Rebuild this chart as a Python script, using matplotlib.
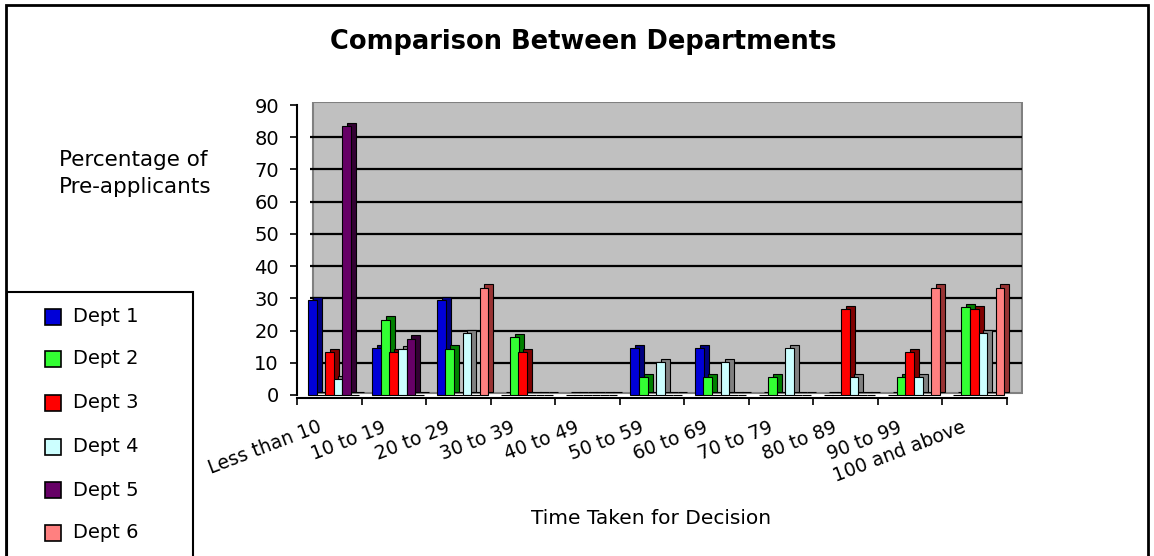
import numpy as np
import matplotlib
matplotlib.use('Agg')
from matplotlib import pyplot as plt
from matplotlib.patches import Rectangle

plt.rcParams['font.family'] = ['DejaVu Sans']

# data
categories = ['Less than 10', '10 to 19', '20 to 29', '30 to 39', '40 to 49',
              '50 to 59', '60 to 69', '70 to 79', '80 to 89', '90 to 99',
              '100 and above']
depts = ['Dept 1', 'Dept 2', 'Dept 3', 'Dept 4', 'Dept 5', 'Dept 6']
dept1 = [29.4, 14.5, 29.4, 0, 0, 14.5, 14.5, 0, 0, 0, 0]
dept2 = [0, 23.4, 14.4, 18, 0, 5.5, 5.5, 5.5, 0, 5.5, 27.3]
dept3 = [13.4, 13.3, 0, 13.4, 0, 0, 0, 0, 26.6, 13.4, 26.7]
dept4 = [5, 14.3, 19.3, 0, 0, 10.3, 10.3, 14.5, 5.5, 5.5, 19.2]
dept5 = [83.4, 17.5, 0, 0, 0, 0, 0, 0, 0, 0, 0]
dept6 = [0, 0, 33.3, 0, 0, 0, 0, 0, 0, 33.3, 33.3]
values = [dept1, dept2, dept3, dept4, dept5, dept6]

front = ['#0000d8', '#33ff33', '#ff0000', '#ccffff', '#660066', '#ff8080']
side = ['#000080', '#008000', '#800000', '#808080', '#330033', '#993333']

W, H = 1154, 556
fig = plt.figure(figsize=(W / 100, H / 100), dpi=100)

def px(x, y):
    # pixel (from top-left) -> figure fraction
    return x / W, 1 - y / H

# outer chart border
fig.patches.append(Rectangle(px(6, 600), 1142 / W, 595 / H, transform=fig.transFigure,
                             fill=False, edgecolor='black', lw=2))

ax = fig.add_axes([297 / W, 1 - 398.2 / H, 726 / W, 296.4 / H])
ax.set_facecolor('none')
ax.set_xlim(0, 726 / 64.5)
ax.set_ylim(-1, 91)

# back wall + gridlines
ax.add_patch(Rectangle((0.25, 0.6), 726 / 64.5 - 0.27, 90.3, facecolor='#c0c0c0',
                       edgecolor='#808080', lw=1.5, zorder=0))
ax.hlines(np.arange(10, 90, 10), 0.2, 726 / 64.5 - 0.02, color='black', lw=1.6, zorder=1)

x0 = np.arange(len(categories))
stride, bw, dx, dy = 0.132, 0.135, 0.075, 1.0
z = 2
for i in range(len(depts)):
    xs = x0 + 0.17 + i * stride
    ax.bar(xs + dx, values[i], width=bw, bottom=dy, align='edge', color=side[i],
           edgecolor='black', lw=0.8, zorder=z)
    ax.bar(xs, values[i], width=bw, align='edge', color=front[i],
           edgecolor='black', lw=0.8, zorder=z + 1)
    z += 2

for s in ['top', 'right']:
    ax.spines[s].set_visible(False)
ax.spines['left'].set_bounds(0, 90)
ax.spines['bottom'].set_bounds(0, len(categories))
ax.spines['left'].set_linewidth(1.5)
ax.spines['bottom'].set_linewidth(1.5)
ax.spines['bottom'].set_zorder(20)

ax.set_yticks(np.arange(0, 91, 10))
ax.tick_params(axis='y', length=5, width=1.2, labelsize=14, pad=8)
ax.set_xticks(np.arange(0, len(categories) + 1))
ax.set_xticklabels([])
ax.tick_params(axis='x', length=5, width=1.2)

for i, lab in enumerate(categories):
    ax.text(i + 0.31, -7, lab, rotation=21, ha='right', va='top',
            rotation_mode='anchor', fontsize=13.5, clip_on=False)

fig.text(*px(583, 42), 'Comparison Between Departments', ha='center', va='center',
         fontsize=18.5, fontweight='bold')
fig.text(*px(651, 518), 'Time Taken for Decision', ha='center', va='center', fontsize=14.5)
fig.text(*px(59, 150), 'Percentage of\nPre-applicants', ha='left', va='top',
         fontsize=15.5, linespacing=1.45)

# legend box
fig.patches.append(Rectangle(px(7, 600), 186 / W, 308 / H, transform=fig.transFigure,
                             facecolor='white', edgecolor='black', lw=1.5))
leg_y = [317, 359, 403, 447, 490, 533]
for i, name in enumerate(depts):
    fig.patches.append(Rectangle(px(45, leg_y[i] + 8), 16 / W, 16 / H,
                                 transform=fig.transFigure, facecolor=front[i],
                                 edgecolor='black', lw=1.2))
    fig.text(*px(73, leg_y[i]), name, ha='left', va='center', fontsize=14)

fig.savefig('out.png', dpi=100)
